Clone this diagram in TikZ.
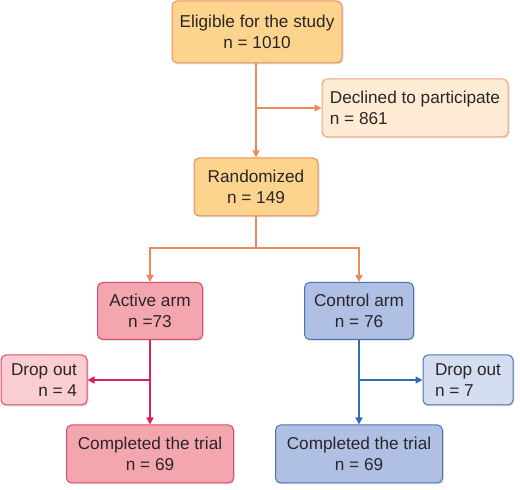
\documentclass[tikz,border=0pt]{standalone}
\usepackage{fontspec}
\setmainfont{Liberation Sans}
\usetikzlibrary{arrows.meta,positioning,shadows}
\definecolor{FlowOrange}{HTML}{EE8A5A}
\definecolor{FlowOrangeFill}{HTML}{FCD48E}
\definecolor{FlowOrangeLight}{HTML}{FDEBD3}
\definecolor{FlowCrimson}{HTML}{DC1E5A}
\definecolor{FlowPinkEdge}{HTML}{E0476E}
\definecolor{FlowPinkFill}{HTML}{F4A6AE}
\definecolor{FlowPinkLight}{HTML}{F9CDD2}
\definecolor{FlowBlue}{HTML}{2F6DB5}
\definecolor{FlowBlueEdge}{HTML}{4A74B0}
\definecolor{FlowBlueFill}{HTML}{AFC0E4}
\definecolor{FlowBlueLight}{HTML}{D5DEF1}
\definecolor{FlowInk}{HTML}{2A2627}

\begin{document}
\begin{tikzpicture}[x=1pt,y=1pt,>=Triangle]
\tikzset{
  box/.style={line width=1.0pt,rounded corners=5pt,align=center,text=FlowInk,
              inner sep=3pt,font=\fontsize{17.2}{20.5}\selectfont,
              drop shadow={opacity=0.22,shadow xshift=1.5pt,shadow yshift=-1.5pt}},
  mainbox/.style={box,draw=FlowOrange,fill=FlowOrangeFill},
  sidebox/.style={box,draw=FlowOrange!80,fill=FlowOrangeLight},
  activebox/.style={box,draw=FlowPinkEdge,fill=FlowPinkFill},
  activeout/.style={box,draw=FlowPinkEdge,fill=FlowPinkLight},
  controlbox/.style={box,draw=FlowBlueEdge,fill=FlowBlueFill},
  controlout/.style={box,draw=FlowBlueEdge,fill=FlowBlueLight},
  orangeflow/.style={FlowOrange,line width=1.6pt,-{Triangle[length=7pt,width=7pt]}},
  activeflow/.style={FlowCrimson,line width=1.6pt,-{Triangle[length=7pt,width=7pt]}},
  controlflow/.style={FlowBlue,line width=1.6pt,-{Triangle[length=7pt,width=7pt]}}
}
\useasboundingbox (0,0) rectangle (520,490);

% ---------- enrolment ----------------------------------------------------
\node[mainbox,minimum width=170pt,minimum height=62pt] (eligible) at (257,458)
  {Eligible for the study\\n = 1010};
\node[sidebox,align=left,minimum width=186pt,minimum height=58pt] (declined) at (415,382)
  {Declined to participate\\n = 861};
\node[mainbox,minimum width=124pt,minimum height=58pt] (random) at (256,303)
  {Randomized\\n = 149};

\draw[orangeflow] (eligible.south -| random.north) -- (random.north);
\draw[orangeflow] (eligible.south -| random.north) |- (declined.west);

% ---------- the two arms -------------------------------------------------
\node[activebox,minimum width=105pt,minimum height=57pt] (active) at (150,179)
  {Active arm\\n =73};
\node[controlbox,minimum width=109pt,minimum height=57pt] (control) at (359,179)
  {Control arm\\n = 76};
\coordinate (split) at (256,242);

\draw[FlowOrange,line width=1.6pt] (random.south) -- (split);
\draw[orangeflow] (split) -| (active.north);
\draw[orangeflow] (split) -| (control.north);

% ---------- drop outs and completers -------------------------------------
\node[activeout,align=right,minimum width=86pt,minimum height=50pt] (dropactive) at (44,110)
  {Drop out\\n = 4};
\node[controlout,align=left,minimum width=90pt,minimum height=50pt] (dropcontrol) at (468,110)
  {Drop out\\n = 7};
\node[activebox,minimum width=167pt,minimum height=58pt] (doneactive) at (150,36)
  {Completed the trial\\n = 69};
\node[controlbox,minimum width=167pt,minimum height=58pt] (donecontrol) at (359,36)
  {Completed the trial\\n = 69};

\draw[activeflow] (active.south) -- (doneactive.north);
\draw[activeflow] (active.south |- dropactive.east) -- (dropactive.east);
\draw[controlflow] (control.south) -- (donecontrol.north);
\draw[controlflow] (control.south |- dropcontrol.west) -- (dropcontrol.west);
\end{tikzpicture}
\end{document}
